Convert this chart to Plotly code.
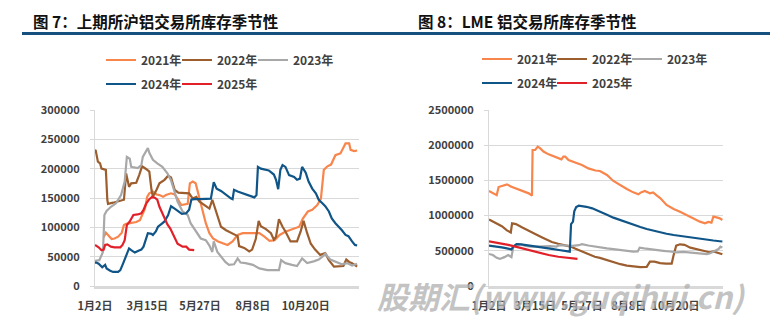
import plotly.graph_objects as go

# ---------------- shared categories ----------------
YEARS = ["2021年", "2022年", "2023年", "2024年", "2025年"]
COLORS = ["#F8854C", "#9C5E2E", "#A8A8A8", "#105588", "#E2202A"]
TICK_DAYS = [0, 72, 145, 218, 291]          # days after 1月2日
TICK_TEXT = ["1月2日", "3月15日", "5月27日", "8月8日", "10月20日"]

# ---------------- 图7 上期所沪铝库存 (千吨), x = days after 1月2日 ----------------
shfe_2021_day = [12,15,18,23,27,32,37,40,43,50,57,62,65,69,72,75,80,85,89,94,98,105,110,114,119,128,131,135,139,144,
                 149,153,158,163,170,176,183,190,197,204,218,227,234,241,248,255,262,273,282,287,294,300,307,312,316,321,
                 326,332,339,346,351,353,358,362]
shfe_2021_val = [83,91,87,80,81,84,91,104,106,107,109,112,121,132,152,158,161,156,155,152,155,158,156,149,138,140,175,178,175,150,
                 124,107,90,81,76,73,70,76,87,90,90,90,84,77,78,87,92,97,101,115,127,130,138,149,198,204,
                 207,223,226,243,243,232,230,231]

shfe_2022_day = [0,1,4,7,9,15,17,18,25,32,40,43,47,50,57,61,65,71,75,78,80,85,89,96,101,105,110,115,130,135,
                 140,144,158,162,167,174,181,190,197,199,206,213,217,222,226,229,236,243,247,250,254,259,263,270,279,284,
                 288,293,298,304,311,318,323,330,337,343,347,351,355,362]
shfe_2022_val = [232,231,212,209,200,198,147,140,142,144,147,192,169,175,176,189,204,199,195,164,152,164,175,181,188,185,164,159,158,149,
                 152,144,132,147,126,101,95,90,85,68,65,59,62,80,111,102,97,90,79,84,114,101,93,76,76,93,
                 111,90,72,62,53,56,44,33,33,34,45,41,39,33]

shfe_2023_day = [0,6,11,13,16,22,29,36,41,44,48,50,59,64,66,70,73,75,80,86,93,100,105,109,114,121,128,132,139,146,
                 153,158,162,164,169,174,180,185,192,197,201,208,218,227,238,250,254,257,263,272,279,286,293,302,309,314,
                 318,325,332,341,348,355,362]
shfe_2023_val = [43,44,58,121,128,135,141,155,178,220,217,203,201,206,220,229,235,227,215,209,203,192,180,164,144,127,121,107,95,81,
                 78,69,58,76,58,50,41,36,37,47,40,39,36,30,27,27,27,44,39,36,34,47,39,42,45,50,
                 55,45,41,37,39,35,38]

shfe_2024_day = [0,2,5,7,10,14,16,21,25,32,35,39,43,47,50,55,60,64,67,70,73,78,80,84,87,92,96,101,105,110,
                 115,120,126,130,133,137,145,160,164,168,174,181,188,190,192,197,204,208,215,220,223,225,229,236,240,247,
                 250,253,256,259,263,268,275,279,283,286,291,295,300,305,309,314,318,323,327,332,337,341,346,350,355,359,362]
shfe_2024_val = [40,40,38,36,32,36,30,26,24,24,27,39,53,64,61,57,60,62,67,78,90,89,87,93,101,106,110,121,136,132,
                 127,123,124,130,147,148,148,149,177,166,162,155,149,148,164,161,158,155,152,151,155,203,200,198,197,190,
                 181,165,198,206,203,189,186,181,183,203,193,178,166,158,147,141,136,127,115,107,101,95,87,85,76,70,69]

shfe_2025_day = [0,5,9,12,14,17,22,27,35,38,41,44,48,53,59,64,67,71,75,79,83,86,89,93,97,100,104,107,110,114,
                 121,126,130,134,137]
shfe_2025_val = [70,66,61,62,70,71,67,66,66,70,78,104,110,121,122,124,130,141,148,152,150,147,135,124,112,105,98,90,80,72,
                 67,67,62,61,61]

# ---------------- 图8 LME 铝库存 (千吨), x = days after 1月2日 ----------------
lme_2021_day = [0,5,12,15,20,28,35,41,52,62,67,68,72,76,80,85,93,104,113,116,119,124,135,145,155,166,173,184,194,204,
                215,225,233,237,243,251,256,261,267,277,288,298,308,319,329,337,342,347,350,355,360,364]
lme_2021_val = [1349,1320,1290,1406,1420,1444,1410,1387,1350,1316,1283,1932,1932,1979,1955,1910,1870,1835,1799,1837,
                1837,1790,1757,1720,1671,1640,1634,1577,1492,1435,1378,1330,1302,1330,1349,1316,1330,1290,1250,1151,
                1094,1056,1009,960,914,890,910,900,985,975,961,937]

lme_2022_day = [0,10,20,28,34,36,42,52,62,72,83,93,98,108,119,127,135,145,155,165,173,184,194,205,215,225,236,246,251,258,
                267,276,285,288,292,298,305,314,324,334,344,350,360,364]
lme_2022_val = [945,900,850,790,760,890,880,830,790,740,690,640,625,600,580,560,530,490,445,415,400,369,336,310,290,278,268,272,346,345,
                325,318,318,440,573,592,585,545,520,502,480,490,464,450]

lme_2023_day = [0,6,12,17,24,30,35,38,44,50,57,65,75,85,95,105,110,120,130,140,145,155,165,173,184,194,204,214,225,232,
                235,242,252,262,272,282,293,303,314,324,334,340,345,350,355,358,361,364]
lme_2023_val = [455,440,400,385,410,440,410,560,595,590,570,560,560,565,565,560,580,575,570,580,595,575,560,545,535,525,511,500,488,490,
                545,535,520,507,500,490,478,485,475,464,450,452,465,490,511,525,558,545]

lme_2024_day = [0,10,20,28,35,38,43,50,57,67,77,88,98,109,118,126,128,131,133,136,140,145,152,161,173,184,194,204,215,225,
                236,246,256,267,277,288,298,308,319,329,340,350,360,364]
lme_2024_val = [575,565,548,535,520,560,595,590,582,573,560,540,528,511,500,488,880,914,1060,1120,1140,1138,1125,1103,1060,1012,971,937,900,866,
                838,810,785,762,742,724,710,696,683,672,658,646,636,632]

lme_2025_day = [0,15,30,46,62,77,93,108,124,138]
lme_2025_val = [635,615,585,548,510,468,440,415,398,385]

shfe = [(shfe_2021_day, shfe_2021_val), (shfe_2022_day, shfe_2022_val), (shfe_2023_day, shfe_2023_val),
        (shfe_2024_day, shfe_2024_val), (shfe_2025_day, shfe_2025_val)]
lme = [(lme_2021_day, lme_2021_val), (lme_2022_day, lme_2022_val), (lme_2023_day, lme_2023_val),
       (lme_2024_day, lme_2024_val), (lme_2025_day, lme_2025_val)]

W, H = 770, 326
FONT = "Noto Sans CJK SC"
TXT = "#404040"

# legend entry widths: last entry of a row gets room for its whole label
LEG_W = [31, 31, 50, 31, 50]

fig = go.Figure()
for i, (d, v) in enumerate(shfe):
    fig.add_trace(go.Scatter(x=d, y=[k * 1000 for k in v], mode="lines", name=YEARS[i],
                             line=dict(color=COLORS[i], width=2.2), xaxis="x", yaxis="y",
                             legend="legend" if i < 3 else "legend2", legendwidth=LEG_W[i]))
for i, (d, v) in enumerate(lme):
    fig.add_trace(go.Scatter(x=d, y=[k * 1000 for k in v], mode="lines", name=YEARS[i],
                             line=dict(color=COLORS[i], width=2.2), xaxis="x2", yaxis="y2",
                             legend="legend3" if i < 3 else "legend4", legendwidth=LEG_W[i] - 1))

tickfont = dict(family=FONT, size=11, color=TXT, weight="bold")
ydom = [1 - 286 / H, 1 - 110 / H]

def xax(dom, anchor):
    return dict(domain=dom, range=[0, 365], tickmode="array", tickvals=TICK_DAYS, ticktext=TICK_TEXT,
                showgrid=False, zeroline=False, showline=True, linecolor="#d9d9d9", linewidth=3,
                ticks="", tickfont=tickfont, ticklabelstandoff=8, fixedrange=True,
                automargin=False, anchor=anchor)

def yax(top, step, anchor):
    return dict(domain=ydom, range=[0, top], dtick=step, tick0=0, tickformat="d", anchor=anchor,
                showgrid=True, gridcolor="#d9d9d9", gridwidth=1, zeroline=False,
                showline=True, linecolor="#d9d9d9", linewidth=1, ticks="outside", ticklen=4,
                tickcolor="#d9d9d9", tickfont=tickfont, ticklabelstandoff=8, fixedrange=True,
                automargin=False)

legfont = dict(family=FONT, size=12, color=TXT, weight="bold")

def leg(xpix, ypix):
    return dict(orientation="h", xref="container", yref="container",
                x=xpix / W, y=1 - ypix / H, xanchor="left", yanchor="middle",
                entrywidthmode="pixels", font=legfont, bgcolor="rgba(0,0,0,0)",
                borderwidth=0, tracegroupgap=0, itemclick=False, itemdoubleclick=False)

fig.update_layout(
    width=W, height=H, margin=dict(l=0, r=0, t=0, b=0, autoexpand=False),
    paper_bgcolor="white", plot_bgcolor="white", showlegend=True,
    xaxis=xax([95 / W, 359.3 / W], "y"),
    yaxis=yax(300000, 50000, "x"),
    xaxis2=xax([489 / W, 723 / W], "y2"),
    yaxis2=yax(2500000, 500000, "x2"),
    legend=leg(101, 60), legend2=leg(101, 84),
    legend3=leg(477, 59), legend4=leg(477, 83),
)

# titles and underline
titlefont = dict(family=FONT, size=15.5, color="#111111", weight="bold")
fig.add_annotation(text="图 7：上期所沪铝交易所库存季节性", xref="paper", yref="paper",
                   x=31 / W, y=1 - 21 / H, xanchor="left", yanchor="middle", showarrow=False, font=titlefont)
fig.add_annotation(text="图 8：LME 铝交易所库存季节性", xref="paper", yref="paper",
                   x=416 / W, y=1 - 21 / H, xanchor="left", yanchor="middle", showarrow=False, font=titlefont)
fig.add_shape(type="line", xref="paper", yref="paper", x0=22 / W, x1=1, y0=1 - 33.5 / H, y1=1 - 33.5 / H,
              line=dict(color="#16507F", width=3))

# watermark
fig.add_annotation(text="股期汇(www.guqihui.cn)", xref="paper", yref="paper",
                   x=561 / W, y=1 - 295 / H, xanchor="center", yanchor="middle", showarrow=False,
                   font=dict(family=FONT, size=31, color="rgba(175,175,175,0.75)", weight="bold", style="italic"))

fig.write_html("out.html")
